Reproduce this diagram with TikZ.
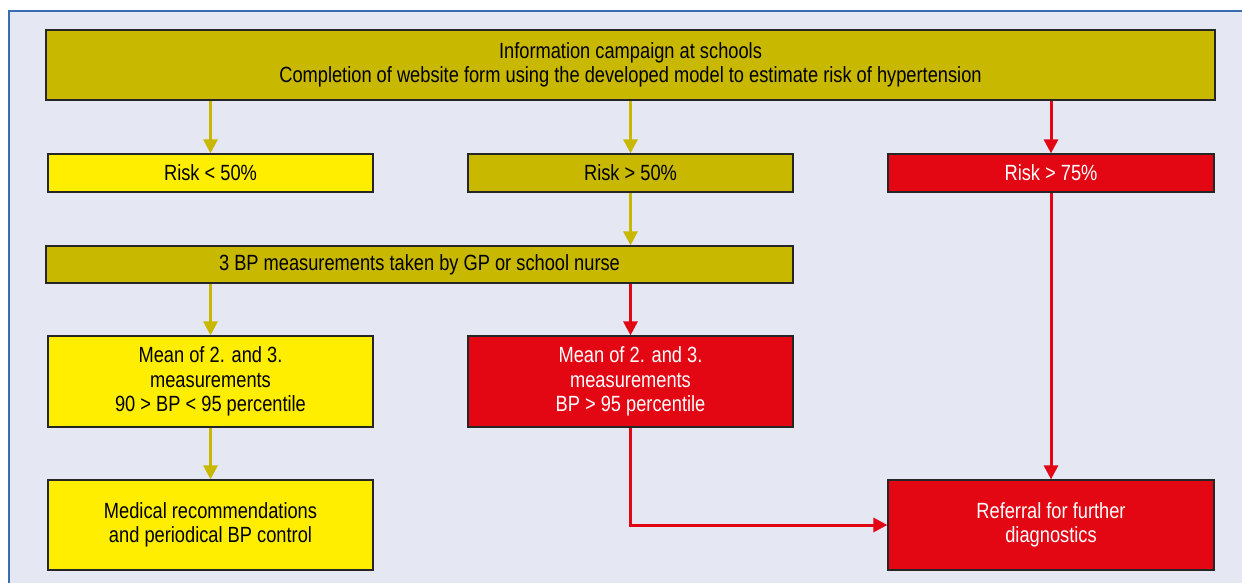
\documentclass[tikz,border=0pt]{standalone}
\usepackage{fontspec}
\setmainfont[FakeStretch=0.83]{Liberation Sans}
\usetikzlibrary{arrows.meta}
\definecolor{olive}{RGB}{200,184,0}
\definecolor{yel}{RGB}{255,238,0}
\definecolor{rd}{RGB}{227,6,19}
\definecolor{bg}{RGB}{229,232,243}
\definecolor{frame}{RGB}{58,110,176}
\tikzset{
	box/.style={draw=black!85,line width=0.6pt,align=center,inner sep=2pt,
		font=\fontsize{11}{12.3}\selectfont,text=black},
	olivebox/.style={box,fill=olive},
	yelbox/.style={box,fill=yel},
	redbox/.style={box,fill=rd,text=white},
	oarrow/.style={draw=olive,line width=1.5pt,-{Triangle[length=7pt,width=7pt]}},
	rarrow/.style={draw=rd,line width=1.5pt,-{Triangle[length=7pt,width=7pt]}}
}
\begin{document}
\begin{tikzpicture}[x=0.5pt,y=-0.5pt]
	\useasboundingbox (0,0) rectangle (1242,583);
	\fill[bg] (9,11) rectangle (1242,583);
	\draw[frame,line width=0.7pt] (9,583) -- (9,11) -- (1242,11);
	
	% top row
	\node[olivebox,minimum width=584.5pt,minimum height=35pt] (camp) at (630.5,65)
		{Information campaign at schools\\Completion of website form using the developed model to estimate risk of hypertension};
	
	\node[yelbox,minimum width=162.5pt,minimum height=19pt] (rlow) at (210.5,173) {Risk < 50\%};
	\node[olivebox,minimum width=162.5pt,minimum height=19pt] (rmid) at (630.5,173) {Risk > 50\%};
	\node[redbox,minimum width=163pt,minimum height=19pt] (rhigh) at (1051,173) {Risk > 75\%};
	
	\node[olivebox,minimum width=373.5pt,minimum height=18.5pt] (bp) at (419.5,264.5)
		{3 BP measurements taken by GP or school nurse};
	
	\node[yelbox,minimum width=162.5pt,minimum height=45.5pt] (mlow) at (210.5,381.5)
		{Mean of 2. and 3.\\measurements\\90 > BP < 95 percentile};
	\node[redbox,minimum width=162.5pt,minimum height=45.5pt] (mhigh) at (630.5,381.5)
		{Mean of 2. and 3.\\measurements\\BP > 95 percentile};
	
	\node[yelbox,minimum width=162.5pt,minimum height=45pt] (med) at (210.5,525)
		{Medical recommendations\\and periodical BP control};
	\node[redbox,minimum width=163pt,minimum height=45pt] (ref) at (1051,525)
		{Referral for further\\diagnostics};
	
	% arrows
	\draw[oarrow] (camp.south -| rlow.north) -- (rlow.north);
	\draw[oarrow] (camp.south -| rmid.north) -- (rmid.north);
	\draw[rarrow] (camp.south -| rhigh.north) -- (rhigh.north);
	\draw[oarrow] (rmid) -- (bp.north -| rmid.south);
	\draw[oarrow] (bp.south -| mlow.north) -- (mlow.north);
	\draw[rarrow] (bp.south -| mhigh.north) -- (mhigh.north);
	\draw[oarrow] (mlow) -- (med);
	\draw[rarrow] (rhigh) -- (ref);
	\draw[rarrow] (mhigh.south) |- (ref.west);
\end{tikzpicture}
\end{document}
